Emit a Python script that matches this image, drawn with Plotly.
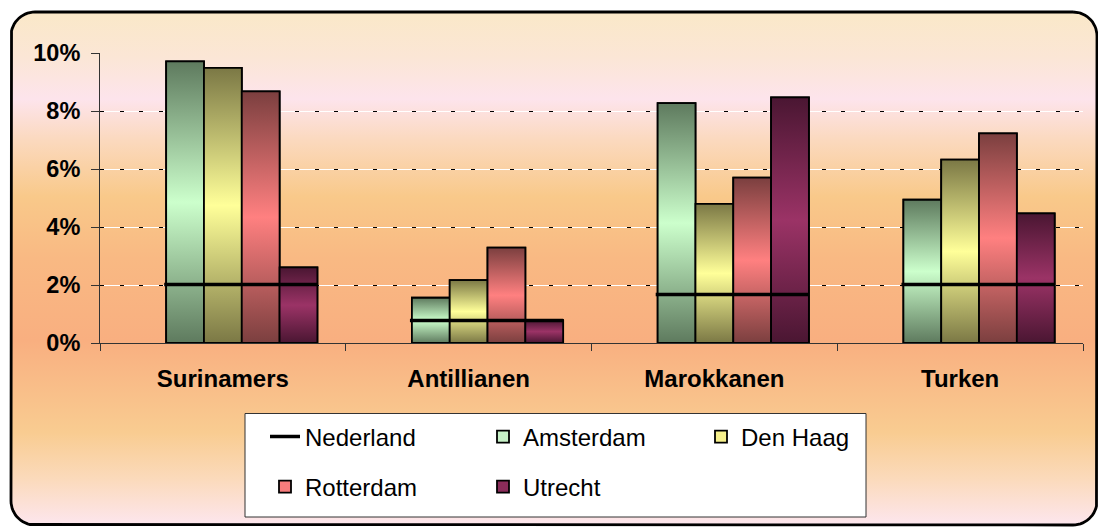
import numpy as np
import plotly.graph_objects as go

# ---------------- data ----------------
categories = ["Surinamers", "Antillianen", "Marokkanen", "Turken"]
cities = ["Amsterdam", "Den Haag", "Rotterdam", "Utrecht"]
amsterdam = [9.71, 1.56, 8.27, 4.94]
den_haag = [9.49, 2.17, 4.80, 6.32]
rotterdam = [8.68, 3.29, 5.70, 7.23]
utrecht = [2.61, 0.79, 8.47, 4.47]
nederland = [2.02, 0.78, 1.67, 2.02]
y_ticks = [0, 2, 4, 6, 8, 10]
y_ticktext = ["0%", "2%", "4%", "6%", "8%", "10%"]

series = {"Amsterdam": amsterdam, "Den Haag": den_haag,
          "Rotterdam": rotterdam, "Utrecht": utrecht}

# ---------------- styles ----------------
W, H = 1098, 527
FONT = "Arial, Liberation Sans, sans-serif"
dark = {"Amsterdam": "#5E7A5E", "Den Haag": "#7B7845",
        "Rotterdam": "#7B3F3F", "Utrecht": "#4A1632"}
light = {"Amsterdam": "#CCFFCC", "Den Haag": "#FFFF99",
         "Rotterdam": "#FF8080", "Utrecht": "#9B3366"}
legend_col = {"Amsterdam": "#C8F2C8", "Den Haag": "#F6F08C",
              "Rotterdam": "#F77C7C", "Utrecht": "#8A2C5A"}

# Excel-like grouping: 5 slots (first = Nederland), gap width 150 %
n_slots, gap = 5, 1.5
w = 1.0 / (n_slots + gap)
first = -0.5 + gap * w / 2
offsets = {c: first + (k + 1) * w for k, c in enumerate(cities)}
xi = list(range(len(categories)))

fig = go.Figure()

# ---------------- background (rounded frame with vertical gradient) ----------------
left, right, top, bottom, r = 11, 1097, 12, 525, 24
def arc(cx, cy, a0, a1):
    t = np.linspace(np.radians(a0), np.radians(a1), 16)
    return cx + r * np.cos(t), cy + r * np.sin(t)
pts = [arc(right - r, top + r, -90, 0), arc(right - r, bottom - r, 0, 90),
       arc(left + r, bottom - r, 90, 180), arc(left + r, top + r, 180, 270)]
bx = np.concatenate([p[0] for p in pts] + [pts[0][0][:1]])
by = np.concatenate([p[1] for p in pts] + [pts[0][1][:1]])
by = H - by
bg_scale = [[0.0, "#FDE6EE"], [0.09, "#FBDABB"], [0.18, "#F9CC91"],
            [0.36, "#F9AF80"], [0.52, "#F9B983"], [0.64, "#F9C98A"],
            [0.75, "#FBD9BE"], [0.83, "#FDE4EC"], [0.91, "#FBE6D6"],
            [1.0, "#FAE8C8"]]
fig.add_trace(go.Scatter(
    x=bx, y=by, mode="lines", fill="toself",
    fillgradient=dict(type="vertical", colorscale=bg_scale),
    line=dict(color="black", width=2.8), showlegend=False, hoverinfo="skip",
    xaxis="x", yaxis="y"))

# ---------------- bars (legend + base) ----------------
for k, c in enumerate(cities):
    fig.add_trace(go.Bar(
        x=xi, y=series[c], offset=offsets[c], width=w, name=c,
        marker=dict(color=legend_col[c], line=dict(color="black", width=1.8)),
        xaxis="x2", yaxis="y2", hoverinfo="skip",
        legend="legend" if k < 2 else "legend2", legendrank=k + 2))

# gradient overlays for each bar
for c in cities:
    for i, v in zip(xi, series[c]):
        x0 = i + offsets[c]
        x1 = x0 + w
        fig.add_trace(go.Scatter(
            x=[x0, x0, x1, x1, x0], y=[0, v, v, 0, 0], mode="lines",
            fill="toself",
            fillgradient=dict(type="vertical",
                              colorscale=[[0, dark[c]], [0.5, light[c]], [1, dark[c]]]),
            line=dict(color="black", width=1.8), showlegend=False,
            hoverinfo="skip", xaxis="x2", yaxis="y2"))

# Nederland reference lines (on overlay axis y3, which carries the dashed grid)
nx, ny = [], []
for i, v in zip(xi, nederland):
    nx += [i + offsets["Amsterdam"] - 0.008, i + offsets["Utrecht"] + w, None]
    ny += [v, v, None]
fig.add_trace(go.Scatter(
    x=nx, y=ny, mode="lines", name="Nederland",
    line=dict(color="black", width=3.5), xaxis="x2", yaxis="y3",
    legend="legend", legendrank=1, hoverinfo="skip"))

# ---------------- layout ----------------
plot_l, plot_r, plot_t, plot_b = 100, 1083, 53, 343
xr = [-0.5, len(categories) - 0.5]
yr = [0, 10]
shapes = [dict(type="rect", xref="paper", yref="paper",
               x0=245 / W, x1=866 / W, y0=1 - 517 / H, y1=1 - 413.5 / H,
               fillcolor="white", line=dict(color="#333333", width=1), layer="above")]

legend_common = dict(orientation="h", xanchor="left", x=265 / W, yanchor="middle",
                     bgcolor="rgba(0,0,0,0)", borderwidth=0,
                     entrywidth=173, entrywidthmode="pixels", traceorder="normal",
                     font=dict(family=FONT, size=24, color="black"))

fig.update_layout(
    width=W, height=H, margin=dict(l=0, r=0, t=0, b=0, pad=0, autoexpand=False),
    paper_bgcolor="white", plot_bgcolor="rgba(0,0,0,0)",
    showlegend=True,
    legend=dict(legend_common, y=1 - 437 / H),
    legend2=dict(legend_common, y=1 - 487 / H),
    xaxis=dict(domain=[0, 1], range=[0, W], visible=False, fixedrange=True,
               automargin=False),
    yaxis=dict(domain=[0, 1], range=[0, H], visible=False, fixedrange=True,
               automargin=False),
    xaxis2=dict(domain=[plot_l / W, plot_r / W], range=xr, automargin=False,
                anchor="y2", tickmode="array", tickvals=xi, ticktext=categories,
                ticks="", showline=True, linecolor="#333333", linewidth=1,
                showgrid=False, zeroline=False, ticklabelstandoff=14,
                tickfont=dict(family=FONT, size=24, color="black", weight="bold"),
                minor=dict(tickmode="array",
                           tickvals=[i - 0.5 for i in range(len(categories) + 1)],
                           ticks="outside", ticklen=7, tickcolor="#333333",
                           tickwidth=1, showgrid=False)),
    yaxis2=dict(domain=[1 - plot_b / H, 1 - plot_t / H], range=yr, anchor="x2",
                automargin=False,
                tickmode="array", tickvals=y_ticks, ticktext=y_ticktext,
                ticks="outside", ticklen=8, tickcolor="#333333", tickwidth=1,
                showline=True, linecolor="#333333", linewidth=1,
                showgrid=True, gridcolor="white", gridwidth=1.3,
                zeroline=False, ticklabelstandoff=6,
                tickfont=dict(family=FONT, size=23.5, color="black", weight="bold")),
    yaxis3=dict(overlaying="y2", anchor="x2", range=yr, automargin=False,
                tickmode="array", tickvals=y_ticks[1:], showticklabels=False,
                ticks="", showline=False, zeroline=False,
                showgrid=True, gridcolor="black", gridwidth=1, griddash="4px,15.5px"),
    shapes=shapes,
)

fig.write_html("out.html", config={"displayModeBar": False},
               post_script="document.body.style.margin='0';document.body.style.padding='0';")
